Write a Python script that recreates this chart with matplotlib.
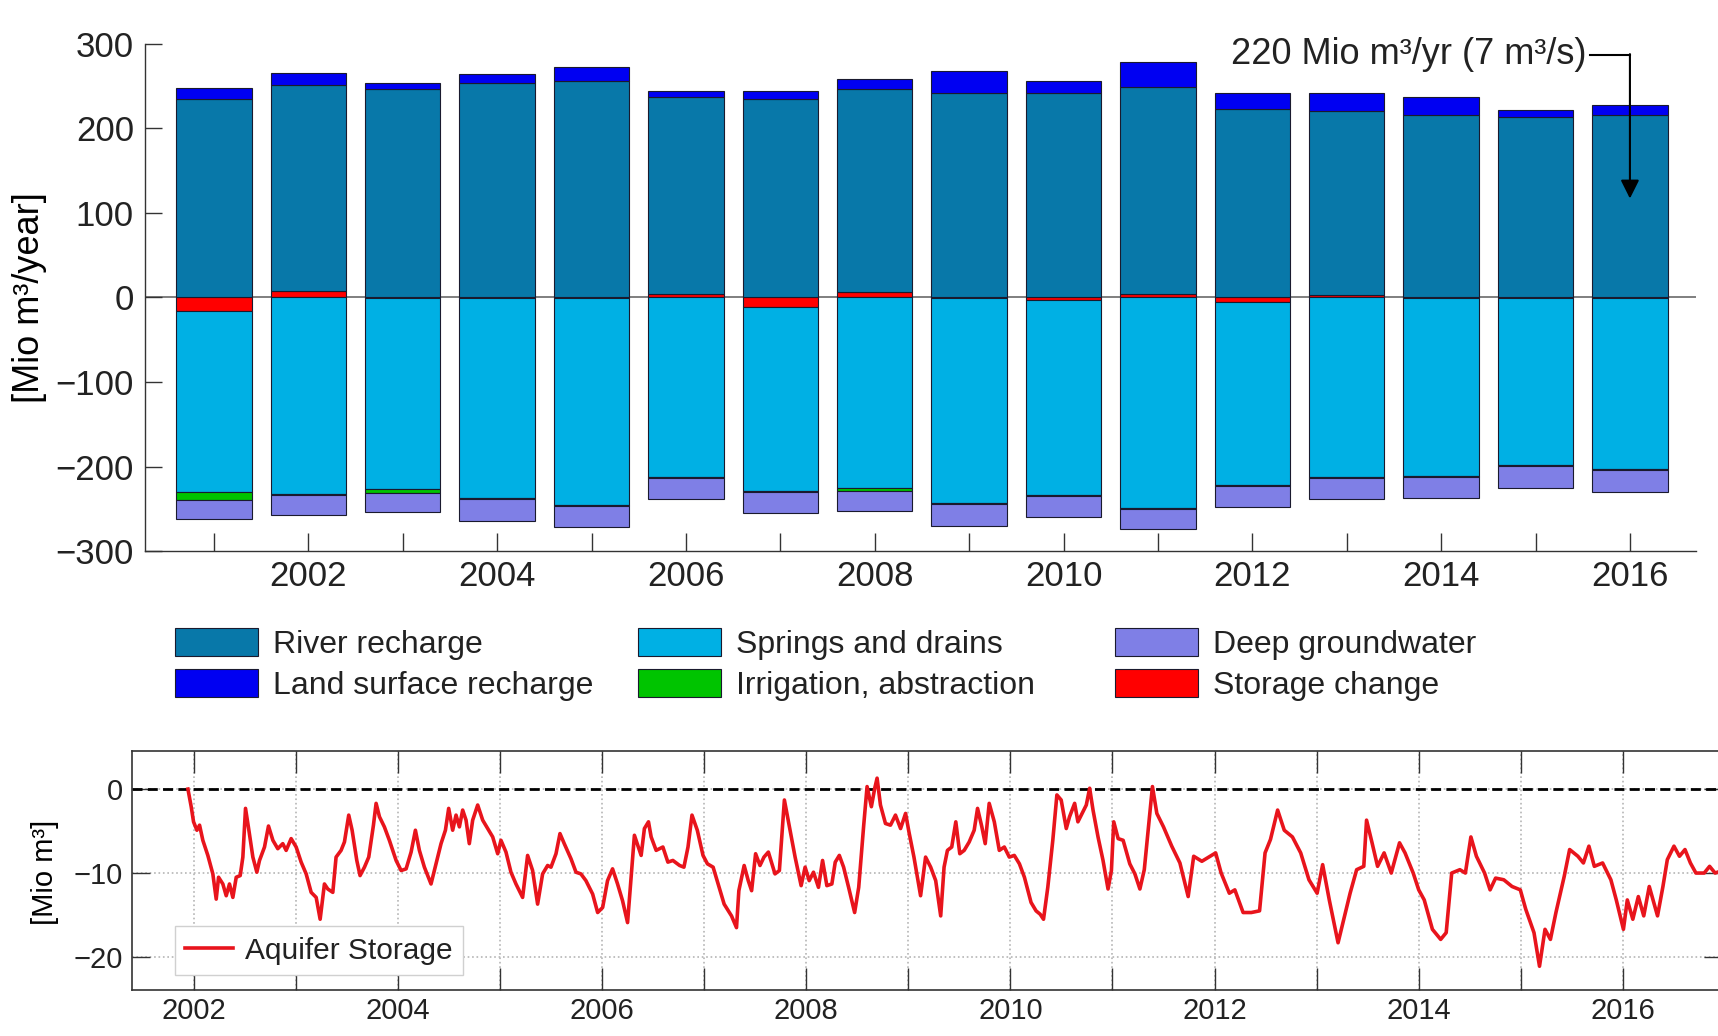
import numpy as np
import matplotlib
matplotlib.use('Agg')
import matplotlib.pyplot as plt
from matplotlib.patches import Patch

plt.rcParams['font.family'] = ['Liberation Sans', 'DejaVu Sans']
plt.rcParams['text.color'] = '#222222'
plt.rcParams['xtick.color'] = '#222222'
plt.rcParams['ytick.color'] = '#222222'

years = np.arange(2001, 2017)

# annual water balance components [Mio m3/year]
river_recharge = [234.6, 243.7, 246.1, 253.2, 256.3, 232.1, 234.6, 240.1,
                  242.1, 241.7, 244.5, 222.5, 216.6, 215.4, 213.4, 216.1]
land_recharge = [13.4, 14.2, 7.1, 10.6, 15.8, 7.5, 9.5, 12.5,
                 25.3, 13.9, 29.9, 18.9, 21.6, 21.2, 8.6, 11.8]
springs_drains = [-214.0, -232.6, -226.2, -237.0, -245.3, -211.8, -217.3, -225.5,
                  -242.8, -230.3, -249.2, -216.3, -212.5, -210.6, -197.3, -201.3]
irrigation = [-10.0, -1.0, -4.0, -1.0, -1.0, -1.5, -1.5, -3.5,
              -1.0, -1.0, -1.0, -1.0, -1.0, -1.0, -1.0, -2.0]
deep_gw = [-22.3, -23.4, -23.2, -25.4, -25.0, -24.9, -24.6, -23.0,
           -25.4, -24.3, -23.8, -25.0, -24.7, -24.6, -26.2, -26.0]
storage_change = [-15.5, 7.5, -0.5, -0.4, -0.3, 4.5, -11.0, 6.0,
                  -0.5, -3.5, 4.0, -5.0, 3.5, -0.4, -1.0, -1.0]

# aquifer storage relative to start [Mio m3]
storage_t = [
    2001.945, 2001.977, 2002.000, 2002.033, 2002.059, 2002.091, 2002.140, 2002.189,
    2002.222, 2002.245, 2002.287, 2002.320, 2002.352, 2002.385, 2002.418, 2002.457,
    2002.483, 2002.509, 2002.542, 2002.581, 2002.620, 2002.646, 2002.695, 2002.734,
    2002.777, 2002.825, 2002.874, 2002.907, 2002.956, 2003.005, 2003.054, 2003.103,
    2003.152, 2003.201, 2003.240, 2003.282, 2003.315, 2003.364, 2003.396, 2003.445,
    2003.478, 2003.520, 2003.553, 2003.599, 2003.631, 2003.674, 2003.716, 2003.762,
    2003.788, 2003.821, 2003.869, 2003.918, 2003.984, 2004.033, 2004.082, 2004.131,
    2004.173, 2004.212, 2004.261, 2004.326, 2004.375, 2004.424, 2004.467, 2004.499,
    2004.538, 2004.571, 2004.604, 2004.636, 2004.669, 2004.701, 2004.734, 2004.783,
    2004.832, 2004.881, 2004.930, 2004.979, 2005.011, 2005.060, 2005.109, 2005.158,
    2005.223, 2005.272, 2005.321, 2005.370, 2005.419, 2005.468, 2005.501, 2005.550,
    2005.589, 2005.631, 2005.697, 2005.746, 2005.794, 2005.843, 2005.909, 2005.958,
    2006.007, 2006.055, 2006.104, 2006.153, 2006.202, 2006.251, 2006.318, 2006.384,
    2006.416, 2006.456, 2006.482, 2006.531, 2006.597, 2006.646, 2006.695, 2006.761,
    2006.803, 2006.843, 2006.882, 2006.934, 2006.990, 2007.033, 2007.089, 2007.138,
    2007.197, 2007.269, 2007.318, 2007.341, 2007.393, 2007.433, 2007.466, 2007.505,
    2007.548, 2007.587, 2007.630, 2007.695, 2007.738, 2007.787, 2007.843, 2007.892,
    2007.951, 2007.990, 2008.030, 2008.072, 2008.121, 2008.161, 2008.203, 2008.252,
    2008.285, 2008.325, 2008.367, 2008.416, 2008.475, 2008.515, 2008.564, 2008.597,
    2008.639, 2008.672, 2008.695, 2008.728, 2008.777, 2008.826, 2008.875, 2008.925,
    2008.974, 2009.007, 2009.056, 2009.121, 2009.170, 2009.220, 2009.269, 2009.318,
    2009.351, 2009.384, 2009.426, 2009.466, 2009.505, 2009.548, 2009.597, 2009.646,
    2009.679, 2009.721, 2009.754, 2009.793, 2009.843, 2009.892, 2009.941, 2009.990,
    2010.039, 2010.089, 2010.138, 2010.203, 2010.252, 2010.292, 2010.325, 2010.367,
    2010.416, 2010.456, 2010.498, 2010.548, 2010.580, 2010.630, 2010.662, 2010.695,
    2010.744, 2010.777, 2010.810, 2010.859, 2010.908, 2010.957, 2010.990, 2011.013,
    2011.056, 2011.105, 2011.170, 2011.220, 2011.269, 2011.312, 2011.392, 2011.435,
    2011.500, 2011.581, 2011.661, 2011.742, 2011.796, 2011.876, 2011.957, 2012.011,
    2012.065, 2012.145, 2012.199, 2012.280, 2012.360, 2012.441, 2012.495, 2012.548,
    2012.618, 2012.683, 2012.763, 2012.844, 2012.925, 2013.005, 2013.059, 2013.124,
    2013.210, 2013.274, 2013.328, 2013.392, 2013.462, 2013.489, 2013.543, 2013.597,
    2013.661, 2013.731, 2013.812, 2013.866, 2013.946, 2014.000, 2014.054, 2014.134,
    2014.215, 2014.269, 2014.323, 2014.403, 2014.457, 2014.511, 2014.565, 2014.645,
    2014.699, 2014.753, 2014.833, 2014.914, 2014.995, 2015.048, 2015.129, 2015.183,
    2015.237, 2015.290, 2015.344, 2015.425, 2015.478, 2015.559, 2015.613, 2015.667,
    2015.720, 2015.801, 2015.882, 2015.935, 2016.005, 2016.043, 2016.097, 2016.151,
    2016.204, 2016.258, 2016.339, 2016.392, 2016.435, 2016.500, 2016.554, 2016.608,
    2016.661, 2016.715, 2016.796, 2016.849, 2016.903, 2016.950]
storage_v = [
    0.0, -2.1, -3.9, -4.9, -4.3, -6.1, -7.9, -10.1,
    -13.1, -10.5, -11.3, -12.7, -11.3, -12.9, -10.5, -10.3,
    -8.1, -2.3, -4.9, -8.1, -9.9, -8.5, -6.9, -4.4,
    -6.1, -7.1, -6.5, -7.3, -5.9, -6.9, -8.7, -10.1,
    -12.3, -12.9, -15.5, -11.3, -11.9, -12.3, -8.1, -7.3,
    -6.3, -3.1, -4.9, -8.5, -10.3, -9.3, -8.1, -4.3,
    -1.7, -3.3, -4.5, -6.1, -8.5, -9.7, -9.5, -7.5,
    -4.9, -7.3, -9.3, -11.3, -8.9, -6.5, -4.9, -2.3,
    -4.9, -3.1, -4.5, -2.5, -3.7, -6.5, -3.7, -1.9,
    -3.7, -4.7, -5.7, -7.7, -6.1, -7.5, -9.9, -11.3,
    -12.9, -7.9, -9.7, -13.7, -10.1, -9.1, -9.3, -7.7,
    -5.3, -6.5, -8.3, -9.9, -10.1, -10.9, -12.5, -14.7,
    -14.1, -10.9, -9.5, -11.3, -13.3, -15.9, -5.5, -7.9,
    -4.7, -3.9, -5.7, -7.3, -6.9, -8.7, -8.5, -9.1,
    -9.3, -6.9, -3.1, -4.9, -7.9, -8.9, -9.3, -11.3,
    -13.7, -15.1, -16.5, -12.1, -9.1, -10.9, -12.1, -7.7,
    -9.1, -8.1, -7.5, -10.1, -9.7, -1.3, -4.9, -8.1,
    -11.5, -9.3, -10.9, -9.9, -11.7, -8.5, -11.5, -11.3,
    -8.7, -7.9, -9.3, -11.7, -14.7, -11.7, -4.3, 0.3,
    -2.1, 0.1, 1.3, -1.9, -4.1, -4.3, -3.1, -4.7,
    -2.9, -5.1, -8.1, -12.7, -8.1, -9.3, -10.9, -15.1,
    -9.3, -7.3, -6.9, -3.9, -7.7, -7.3, -6.3, -4.9,
    -2.3, -4.5, -6.5, -1.7, -3.9, -7.3, -6.9, -8.1,
    -7.9, -8.9, -10.5, -13.5, -14.5, -14.9, -15.5, -11.7,
    -6.1, -0.7, -1.3, -4.7, -3.3, -1.7, -3.9, -3.1,
    -1.9, 0.1, -2.5, -5.7, -8.5, -11.9, -9.7, -3.9,
    -5.9, -6.1, -8.9, -10.1, -11.9, -9.6, 0.3, -2.9,
    -4.5, -6.8, -8.8, -12.8, -8.0, -8.6, -8.0, -7.6,
    -10.0, -12.4, -12.0, -14.7, -14.7, -14.5, -7.6, -6.0,
    -2.5, -4.9, -5.7, -7.6, -10.8, -12.4, -9.0, -13.2,
    -18.3, -15.1, -12.4, -9.6, -9.2, -3.7, -6.4, -9.2,
    -7.6, -10.0, -6.4, -7.6, -10.0, -12.0, -13.2, -16.7,
    -17.9, -17.1, -10.0, -9.6, -10.0, -5.7, -8.0, -10.0,
    -12.0, -10.6, -10.8, -11.6, -12.0, -14.3, -17.1, -21.1,
    -16.7, -17.9, -14.7, -10.4, -7.2, -8.0, -8.8, -6.8,
    -9.2, -8.8, -10.8, -13.2, -16.7, -13.2, -15.5, -12.8,
    -15.1, -11.6, -15.1, -11.6, -8.4, -6.8, -8.0, -7.2,
    -8.8, -10.0, -10.0, -9.2, -10.0, -9.8]

c_river = '#0878a9'
c_land = '#0000f2'
c_springs = '#00b0e4'
c_irr = '#00c400'
c_deep = '#7f7fe6'
c_storage = '#ff0000'
edge = '#1a1a2e'

fig = plt.figure(figsize=(17.18, 10.36), dpi=100)

# ---- annual balance (stacked bars) ----
ax1 = fig.add_axes([0.0844, 0.4679, 0.9028, 0.4899])

sc = np.array(storage_change)
pos0 = np.clip(sc, 0, None)
neg0 = np.clip(sc, None, 0)
riv = np.array(river_recharge)
spr = np.array(springs_drains)
irr = np.array(irrigation)

w = 0.8
kw = dict(width=w, edgecolor=edge, linewidth=0.8, zorder=2)
ax1.bar(years, sc, color=c_storage, **kw)
ax1.bar(years, riv, bottom=pos0, color=c_river, **kw)
ax1.bar(years, land_recharge, bottom=pos0 + riv, color=c_land, **kw)
ax1.bar(years, spr, bottom=neg0, color=c_springs, **kw)
ax1.bar(years, irr, bottom=neg0 + spr, color=c_irr, **kw)
ax1.bar(years, deep_gw, bottom=neg0 + spr + irr, color=c_deep, **kw)

ax1.axhline(0, color='#6a6a6a', lw=1.2, zorder=1)

ax1.set_xlim(2000.27, 2016.70)
ax1.set_ylim(-300, 300)
ax1.set_yticks(np.arange(-300, 301, 100))
ax1.set_xticks(years)
ax1.set_xticklabels([str(y) if y % 2 == 0 else '' for y in years])
ax1.tick_params(axis='both', direction='in', labelsize=25, width=1, color='#333333')
ax1.tick_params(axis='x', length=13, pad=6)
ax1.tick_params(axis='y', length=12, pad=8)
for s in ['top', 'right']:
    ax1.spines[s].set_visible(False)
for s in ['left', 'bottom']:
    ax1.spines[s].set_color('#333333')
    ax1.spines[s].set_linewidth(1)
ax1.set_ylabel('[Mio m³/year]', fontsize=26)
ax1.yaxis.set_label_coords(-0.063, 0.5)

# 220 Mio m3/yr marker on the last bar
ax1.plot([2015.58, 2016.0], [287, 287], color='k', lw=1.5, zorder=4)
ax1.annotate('', xy=(2016.0, 117), xytext=(2016.0, 287.7),
             arrowprops=dict(arrowstyle='-|>', color='k', lw=1.5,
                             mutation_scale=28, shrinkA=0, shrinkB=0),
             zorder=4)
ax1.text(2015.54, 287, '220 Mio m³/yr (7 m³/s)', ha='right', va='center',
         fontsize=26)

# legend below the bars, three columns
leg_cols = [
    ([c_river, c_land], ['River recharge', 'Land surface recharge'], 0.1019),
    ([c_springs, c_irr], ['Springs and drains', 'Irrigation, abstraction'], 0.3714),
    ([c_deep, c_storage], ['Deep groundwater', 'Storage change'], 0.649),
]
for cols, labels, x0 in leg_cols:
    handles = [Patch(facecolor=c, edgecolor=edge, linewidth=0.8) for c in cols]
    fig.legend(handles, labels, loc='upper left', bbox_to_anchor=(x0, 0.3938),
               frameon=False, fontsize=23, handlelength=2.6, handleheight=0.97,
               handletextpad=0.47, labelspacing=0.29, borderpad=0,
               borderaxespad=0)

# ---- aquifer storage time series ----
ax2 = fig.add_axes([0.0770, 0.0446, 0.9253, 0.2308])
ax2.plot(storage_t, storage_v, color='#e8141c', lw=2.6, label='Aquifer Storage',
         zorder=3)
ax2.axhline(0, color='k', lw=2, ls=(0, (3.6, 1.9)), zorder=2)
ax2.set_xlim(2001.40, 2016.97)
ax2.set_ylim(-23.9, 4.57)
ax2.set_xticks(np.arange(2002, 2017))
ax2.set_xticklabels([str(y) if y % 2 == 0 else '' for y in range(2002, 2017)])
ax2.set_yticks([-20, -10, 0])
ax2.grid(True, ls=':', color='#b5b5b5', lw=1.2)
ax2.tick_params(axis='both', direction='in', top=True, right=True,
                labelsize=21, width=1, color='#333333')
ax2.tick_params(axis='x', length=16, pad=5)
ax2.tick_params(axis='y', length=13, pad=6.5)
for s in ax2.spines.values():
    s.set_color('#333333')
    s.set_linewidth(1.2)
ax2.set_ylabel('[Mio m³]', fontsize=21)
ax2.yaxis.set_label_coords(-0.046, 0.489)
ax2.legend(loc='lower left', bbox_to_anchor=(0.0269, 0.062), fontsize=21.5,
           frameon=True, fancybox=False, edgecolor='#d0d0d0', framealpha=1,
           borderpad=0.35, handlelength=1.6, handletextpad=0.4,
           borderaxespad=0)

fig.savefig('out.png', dpi=100)
